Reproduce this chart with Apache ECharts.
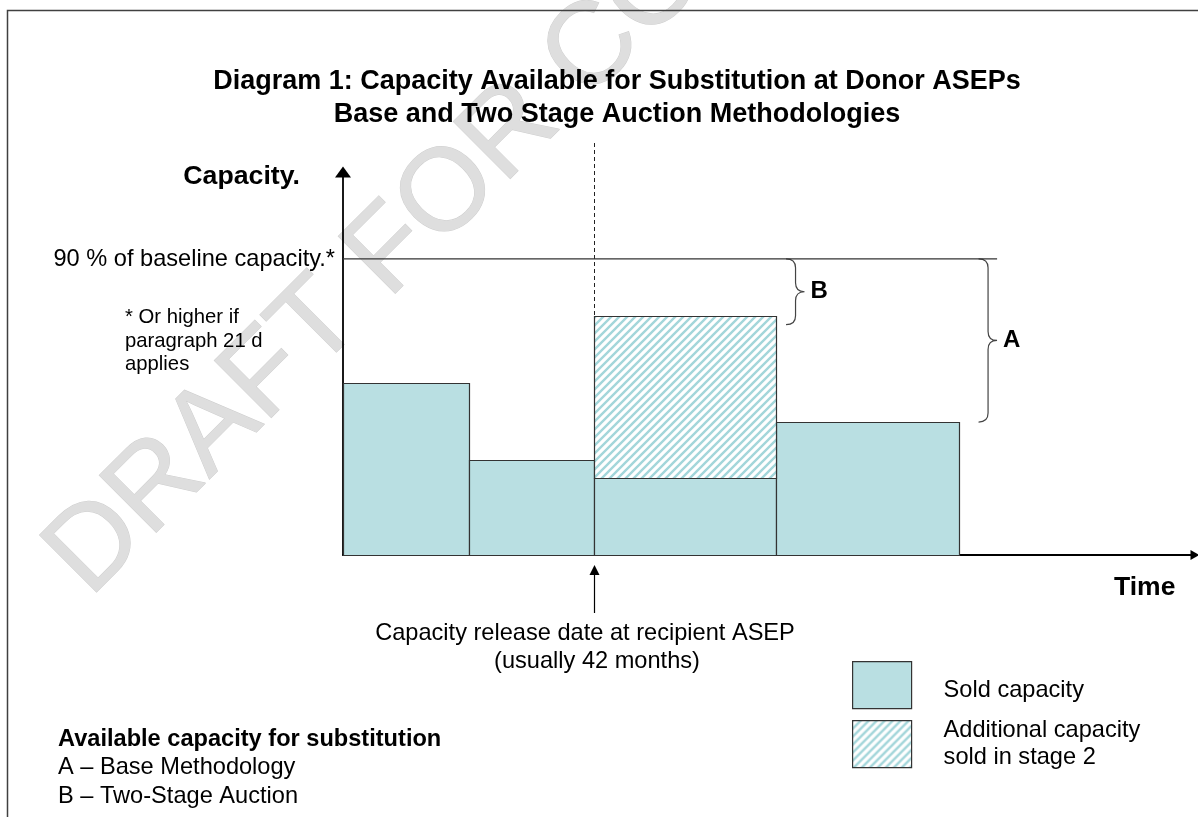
<!DOCTYPE html>
<html><head><meta charset="utf-8">
<script src="https://cdn.jsdelivr.net/npm/echarts@6/dist/echarts.min.js"></script>
<style>html,body{margin:0;padding:0;background:#fff}#c{width:1198px;height:817px}</style>
</head><body><div id="c"></div>
<script>
// ---- data (time in months, capacity in % of baseline) ----
const periodStart   = [0, 21, 42, 72.5];
const periodEnd     = [21, 42, 72.5, 103];
const soldCapacity  = [52.3, 28.9, 23.4, 40.4];
const stage2Extra   = [0, 0, 49.3, 0];
const baselineLevel = 90;
const baselineEnd   = 109.4;
const releaseMonth  = 42;
const braceNames    = ['B', 'A'];
const braceX        = [74.1, 106.3];
const braceTop      = [90, 90];
const braceBottom   = [70, 40.4];
const xMax = 142.5, yMax = 116.4;

const FONT = '"Liberation Sans", Arial, sans-serif';
const SOLD = '#b9dfe2';
const EDGE = '#333333';

function hatchCanvas() {
  const c = document.createElement('canvas'); c.width = c.height = 8;
  const g = c.getContext('2d');
  g.fillStyle = '#ffffff'; g.fillRect(0, 0, 8, 8);
  g.strokeStyle = '#a3d6da'; g.lineWidth = 2.4; g.beginPath();
  g.moveTo(-2, 10); g.lineTo(10, -2);
  g.moveTo(-2, 2); g.lineTo(2, -2);
  g.moveTo(6, 10); g.lineTo(10, 6);
  g.stroke();
  return c;
}
const HATCH = { image: hatchCanvas(), repeat: 'repeat' };

const soldData = periodStart.map((s, i) => [s, periodEnd[i], 0, soldCapacity[i]]);
const extraData = periodStart.map((s, i) => [s, periodEnd[i], soldCapacity[i], soldCapacity[i] + stage2Extra[i]])
  .filter((d, i) => stage2Extra[i] > 0);
const braceData = braceNames.map((n, i) => [braceX[i], braceTop[i], braceBottom[i], n]);

function rectItem(fill) {
  return function (params, api) {
    const p0 = api.coord([api.value(0), api.value(3)]);
    const p1 = api.coord([api.value(1), api.value(2)]);
    return { type: 'rect',
      shape: { x: Math.round(p0[0]) + 0.5, y: Math.round(p0[1]) + 0.5,
               width: Math.round(p1[0]) - Math.round(p0[0]), height: Math.round(p1[1]) - Math.round(p0[1]) },
      style: { fill: fill, stroke: EDGE, lineWidth: 1.2 } };
  };
}

function braceItem(params, api) {
  const a = api.coord([api.value(0), api.value(1)]);
  const b = api.coord([api.value(0), api.value(2)]);
  const xl = a[0], yt = a[1], yb = b[1];
  const xv = xl + 9.5, xt = xv + 9;
  const ym = (yt + yb) / 2, r = Math.min(9, (yb - yt) / 5);
  const d = `M${xl},${yt} Q${xv},${yt} ${xv},${yt + r} L${xv},${ym - r} Q${xv},${ym} ${xt},${ym} ` +
            `Q${xv},${ym} ${xv},${ym + r} L${xv},${yb - r} Q${xv},${yb} ${xl},${yb}`;
  return { type: 'group', children: [
    { type: 'path', shape: { pathData: d }, style: { fill: null, stroke: '#444', lineWidth: 1.2 } },
    { type: 'text', x: xt + 6, y: ym, style: { text: api.value(3), font: 'bold 24px ' + FONT,
      fill: '#000', verticalAlign: 'middle', align: 'left' } }
  ] };
}

function releaseItem(params, api) {
  const top = api.coord([api.value(0), api.value(1)]);
  const base = api.coord([api.value(0), 0]);
  const x = Math.round(top[0]) + 0.5;
  const gridTop = params.coordSys.y;
  return { type: 'group', children: [
    { type: 'line', shape: { x1: x, y1: gridTop - 29, x2: x, y2: top[1] },
      style: { stroke: '#222', lineWidth: 1, lineDash: [4, 3] } },
    { type: 'line', shape: { x1: x, y1: base[1] + 58, x2: x, y2: base[1] + 18 },
      style: { stroke: '#000', lineWidth: 1.2 } },
    { type: 'polygon', shape: { points: [[x, base[1] + 10], [x - 5, base[1] + 20], [x + 5, base[1] + 20]] },
      style: { fill: '#000' } }
  ] };
}

const chart = echarts.init(document.getElementById('c'), null, { renderer: 'canvas' });
const BODY = 23.6;
const txt = (x, y, text, size, opts) => Object.assign({ type: 'text', x: x, y: y, z: 5,
  style: Object.assign({ text: text, font: size + 'px ' + FONT, fill: '#000', verticalAlign: 'middle', align: 'left' }, opts || {}) });

chart.setOption({
  animation: false,
  backgroundColor: '#ffffff',
  title: { text: 'Diagram 1: Capacity Available for Substitution at Donor ASEPs\nBase and Two Stage Auction Methodologies',
    left: 617, top: 65, padding: 0, textAlign: 'center',
    textStyle: { fontFamily: FONT, fontWeight: 'bold', fontSize: 27, lineHeight: 33, color: '#000' } },
  grid: { left: 343, top: 172, right: 1198 - 343 - Math.round(xMax * 251 / 42), bottom: 262 },
  xAxis: { type: 'value', min: 0, max: xMax, splitLine: { show: false }, axisTick: { show: false }, axisLabel: { show: false },
    axisLine: { show: true, onZero: false, lineStyle: { color: '#000', width: 1.8 }, symbol: ['none', 'triangle'], symbolSize: [10, 9] } },
  yAxis: { type: 'value', min: 0, max: yMax, splitLine: { show: false }, axisTick: { show: false }, axisLabel: { show: false },
    axisLine: { show: true, onZero: false, lineStyle: { color: '#000', width: 1.8 }, symbol: ['none', 'triangle'], symbolSize: [16, 11] } },
  legend: { orient: 'vertical', left: 852, top: 661, padding: 0, itemWidth: 59, itemHeight: 47, itemGap: 8, selectedMode: false,
    formatter: name => name === 'Sold capacity' ? '{s|' + name + '}' : name,
    textStyle: { fontFamily: FONT, fontSize: BODY, lineHeight: 27, color: '#000', padding: [0, 0, 0, 27],
      rich: { s: { fontFamily: FONT, fontSize: BODY, color: '#000', padding: [10, 0, 0, 0] } } },
    data: [
      { name: 'Sold capacity', icon: 'rect', itemStyle: { color: SOLD, borderColor: EDGE, borderWidth: 1.2 } },
      { name: 'Additional capacity\nsold in stage 2', icon: 'rect', itemStyle: { color: HATCH, borderColor: EDGE, borderWidth: 1.2 } }
    ] },
  graphic: [
    { type: 'text', x: 67, y: 576, rotation: Math.PI / 4, z: -10, zlevel: 0, silent: true,
      style: { text: 'DRAFT FOR CONSULTATION', font: '117px ' + FONT, fill: '#dedede', stroke: '#cfcfcf', lineWidth: 1,
               verticalAlign: 'middle', align: 'left' } },
    { type: 'polyline', z: 5, shape: { points: [[7.5, 817], [7.5, 10.5], [1198, 10.5]] }, style: { stroke: '#404040', lineWidth: 1.5, fill: null } },
    txt(300, 177, 'Capacity.', 26.7, { font: 'bold 26.7px ' + FONT, align: 'right' }),
    txt(1114, 588, 'Time', 26.5, { font: 'bold 26.5px ' + FONT }),
    txt(335, 259, '90 % of baseline capacity.*', BODY, { align: 'right' }),
    txt(125, 317, '* Or higher if', 20.3),
    txt(125, 341, 'paragraph 21 d', 20.3),
    txt(125, 364, 'applies', 20.3),
    txt(585, 633, 'Capacity release date at recipient ASEP', BODY, { align: 'center' }),
    txt(597, 661, '(usually 42 months)', BODY, { align: 'center' }),
    txt(58, 739, 'Available capacity for substitution', BODY, { font: 'bold ' + BODY + 'px ' + FONT }),
    txt(58, 767, 'A \u2013 Base Methodology', BODY),
    txt(58, 796, 'B \u2013 Two-Stage Auction', BODY)
  ],
  series: [
    { name: 'Sold capacity', type: 'custom', itemStyle: { color: SOLD }, renderItem: rectItem(SOLD),
      encode: { x: [0, 1], y: [2, 3] }, data: soldData, z: 3 },
    { name: 'Additional capacity\nsold in stage 2', type: 'custom', itemStyle: { color: HATCH }, renderItem: rectItem(HATCH),
      encode: { x: [0, 1], y: [2, 3] }, data: extraData, z: 3 },
    { name: '90% baseline', type: 'line', symbol: 'none', silent: true, z: 4,
      lineStyle: { color: '#333', width: 1.2 }, data: [[0, baselineLevel], [baselineEnd, baselineLevel]] },
    { name: 'braces', type: 'custom', renderItem: braceItem, encode: { x: 0, y: [1, 2] }, data: braceData, z: 4, silent: true },
    { name: 'release', type: 'custom', renderItem: releaseItem, encode: { x: 0, y: 1 }, silent: true, z: 4,
      data: [[releaseMonth, soldCapacity[2] + stage2Extra[2]]] }
  ]
});
</script>
</body></html>
